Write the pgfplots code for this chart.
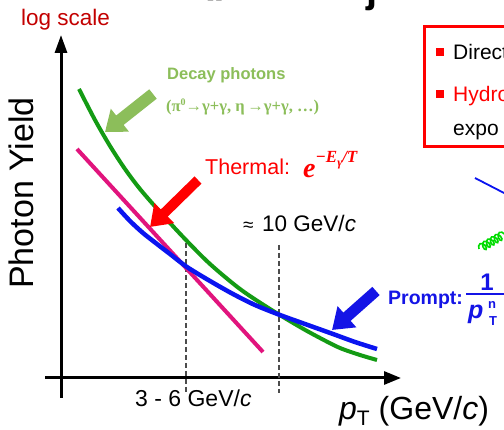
\documentclass[border=0pt]{standalone}
\usepackage{pgfplots}
\pgfplotsset{compat=1.18}
\usepackage{fontspec}
\setmainfont{Liberation Sans}
\newfontfamily\lserif{Liberation Serif}
\usetikzlibrary{arrows.meta,decorations.pathmorphing}
\definecolor{decaygreen}{RGB}{20,155,20}
\definecolor{promptblue}{RGB}{10,20,240}
\definecolor{thermalmag}{RGB}{225,20,125}
\definecolor{lightgreen}{RGB}{140,190,90}
\definecolor{logred}{RGB}{195,0,0}
\definecolor{arrred}{RGB}{255,0,0}
\definecolor{txtblue}{RGB}{20,20,230}
\definecolor{gluongreen}{RGB}{0,220,0}
\newcommand{\fs}[1]{\fontsize{#1}{#1}\selectfont}
\begin{document}
\begin{tikzpicture}
\useasboundingbox (0,0) rectangle (504pt,430pt);
\clip (0,0) rectangle (504pt,430pt);
\fill[white] (0,0) rectangle (504pt,430pt);
\begin{axis}[at={(0,0)}, anchor=south west, scale only axis,
  width=504pt, height=430pt, xmin=0, xmax=504, ymin=0, ymax=430,
  y dir=reverse, hide axis, clip=false]
% axes
\draw[line width=3pt, -{Triangle[length=18pt,width=12pt]}] (axis cs:61,398) -- (axis cs:61,35);
\draw[line width=3pt, -{Triangle[length=17pt,width=13pt]}] (axis cs:45,378) -- (axis cs:401,378);
% dashed guides
\draw[dash pattern=on 5pt off 3pt, line width=1.3pt, black!70] (axis cs:186,243) -- (axis cs:186,393);
\draw[dash pattern=on 5pt off 3pt, line width=1.3pt, black!70] (axis cs:279,245) -- (axis cs:279,393);
% thermal
\addplot[thermalmag, line width=4pt] coordinates {(77,149) (263,352)};
% decay
\addplot[decaygreen, line width=4pt, smooth] coordinates {
(79,89) (95,120) (110,146) (125,169) (140,189) (160,212) (185,239) (210,264)
(240,289) (270,309) (300,327) (320,338) (340,348) (360,355) (377,360)};
% prompt
\addplot[promptblue, line width=4.5pt, smooth] coordinates {
(118,208) (130,221) (143,233) (157,244) (170,254) (187,267) (210,281) (233,294)
(255,305) (280,315) (305,324) (333,334) (355,342) (377,349)};
% fat arrows
\draw[lightgreen, line width=12pt, -{Triangle[length=19pt,width=28pt]}] (axis cs:153,94) -- (axis cs:105,132);
\draw[arrred, line width=10pt, -{Triangle[length=20pt,width=27pt]}] (axis cs:198,180) -- (axis cs:150,227);
\draw[txtblue, line width=11pt, -{Triangle[length=20pt,width=27pt]}] (axis cs:376,291) -- (axis cs:332,330);
% labels
\node[anchor=base west, inner sep=0, text=logred, font=\fs{22.5}] at (axis cs:21,26) {log scale};
\node[anchor=base, rotate=90, inner sep=0, font=\fs{34}] at (axis cs:33,193) {Photon Yield};
\node[anchor=base west, inner sep=0, text=lightgreen, font=\fs{16.5}\bfseries] at (axis cs:167,80) {Decay photons};
\node[anchor=base west, inner sep=0, text=lightgreen, font=\fs{16.5}\lserif\bfseries] at (axis cs:166,112)
  {(π\raisebox{6pt}{\fs{10}0}→γ+γ, η\,→γ+γ, …)};
\node[anchor=base west, inner sep=0, text=arrred, font=\fs{21.5}] at (axis cs:205,175) {Thermal:};
\node[anchor=base west, inner sep=0, text=arrred, font=\fs{28}\lserif\bfseries\itshape] at (axis cs:303,178)
  {e\raisebox{15pt}{\fs{17}−E\raisebox{-3.5pt}{\fs{12}γ}/T}};
\node[anchor=base west, inner sep=0, font=\fs{19}] at (axis cs:243,232) {≈};
\node[anchor=base west, inner sep=0, font=\fs{22.5}] at (axis cs:262,232) {10 GeV/\textit{c}};
\node[anchor=base west, inner sep=0, font=\fs{23}] at (axis cs:135,407) {3 - 6 GeV/\textit{c}};
\node[anchor=base west, inner sep=0, font=\fs{32}] at (axis cs:339,420) {\textit{p}\raisebox{-6pt}{\fs{21}T} (GeV/\textit{c})};
\node[anchor=base west, inner sep=0, text=txtblue, font=\fs{19.5}\bfseries] at (axis cs:388,305) {Prompt:};
\draw[txtblue, line width=2pt] (axis cs:466,294) -- (axis cs:520,294);
\node[anchor=base, inner sep=0, text=txtblue, font=\fs{24}\bfseries] at (axis cs:487,291) {1};
\node[anchor=base west, inner sep=0, text=txtblue, font=\fs{25}\bfseries\itshape] at (axis cs:468,319) {p};
\node[anchor=base west, inner sep=0, text=txtblue, font=\fs{13}\bfseries] at (axis cs:488,309) {n};
\node[anchor=base west, inner sep=0, text=txtblue, font=\fs{13}\bfseries] at (axis cs:489,326) {T};
% legend box (cropped at the right edge)
\draw[arrred, line width=3pt] (axis cs:424,27) rectangle (axis cs:540,147);
\fill[arrred] (axis cs:436,48) rectangle (axis cs:444,56);
\fill[arrred] (axis cs:436,90) rectangle (axis cs:444,98);
\node[anchor=base west, inner sep=0, font=\fs{21}] at (axis cs:453,60) {Direct};
\node[anchor=base west, inner sep=0, text=arrred, font=\fs{21}] at (axis cs:453,102) {Hydro};
\node[anchor=base west, inner sep=0, font=\fs{21}] at (axis cs:453,136) {expo};
% right-edge fragments
\draw[promptblue, line width=1.8pt] (axis cs:475,178) -- (axis cs:506,194);
\draw[gluongreen, line width=1.6pt, decorate, decoration={coil, aspect=0.6, amplitude=4pt, segment length=4.5pt}] (axis cs:479,249) -- (axis cs:508,232);
% title fragments (cropped)
\node[anchor=base west, inner sep=0, font=\fs{40}\bfseries] at (axis cs:200,-7) {(};
\node[anchor=base west, inner sep=0, font=\fs{40}\bfseries] at (axis cs:216,-7) {)};
\node[anchor=base west, inner sep=0, font=\fs{40}\bfseries] at (axis cs:366,3) {j};
\end{axis}
\end{tikzpicture}
\end{document}
